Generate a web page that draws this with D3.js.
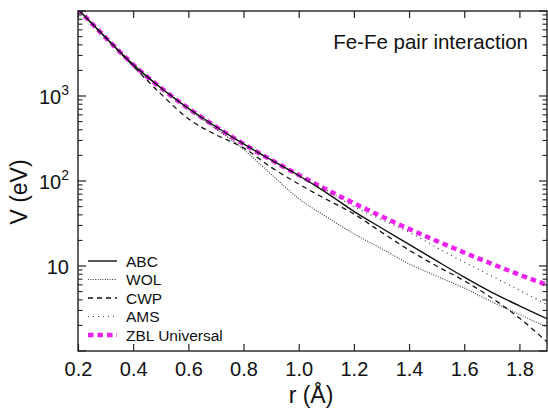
<!DOCTYPE html>
<html>
<head>
<meta charset="utf-8">
<script src="https://cdn.jsdelivr.net/npm/d3@7/dist/d3.min.js"></script>
<style>
  body { margin: 0; background: #fff; }
  svg { display: block; }
  text { font-family: "Liberation Sans", Arial, Helvetica, sans-serif; fill: #111; }
</style>
</head>
<body>
<svg id="chart" width="548" height="409"></svg>
<script>
// Pair separation r (Å)
const radii = [0.2, 0.3, 0.4, 0.5, 0.6, 0.7, 0.8, 0.9, 1.0, 1.1, 1.2, 1.3, 1.4, 1.5, 1.6, 1.7, 1.8, 1.9];

// Pair potential V(r) in eV for each parametrisation
const abcValues = [10500, 4880, 2340, 1250, 717, 435, 273, 177, 116, 73, 44, 28, 18, 11.5, 7.4, 4.9, 3.4, 2.4];
const wolValues = [10500, 4880, 2340, 1250, 700, 410, 235, 120, 62, 38, 24, 16, 10.6, 7.6, 5.5, 3.8, 2.7, 1.9];
const cwpValues = [10500, 4880, 2250, 1060, 540, 350, 245, 145, 92, 61, 41, 25, 15.4, 10, 6.7, 4.2, 2.44, 1.28];
const amsValues = [10500, 4880, 2340, 1250, 717, 435, 273, 177, 118, 78, 50, 35, 25, 16.5, 11.1, 7.6, 5.2, 3.5];
const zblValues = [10500, 4880, 2340, 1250, 717, 435, 273, 177, 118, 79.5, 54.8, 38.4, 27.3, 19.7, 14.4, 10.6, 7.9, 6.0];

const seriesNames = ["ABC", "WOL", "CWP", "AMS", "ZBL Universal"];

// Axis ticks
const xTicks = [0.2, 0.4, 0.6, 0.8, 1.0, 1.2, 1.4, 1.6, 1.8];
const yMajorTicks = [1, 10, 100, 1000, 10000];
const yLabelTicks = [10, 100, 1000];
const yLabelBase = ["10", "10", "10"];
const yLabelExp = ["", "2", "3"];

const title = "Fe-Fe pair interaction";
const xTitle = "r (Å)";
const yTitle = "V (eV)";

// ---- layout ----
const plot = { left: 78, right: 547, top: 11, bottom: 351 };

const svg = d3.select("#chart");

const x = d3.scaleLinear().domain([0.2, 1.9]).range([plot.left, plot.right]);
const y = d3.scaleLog().domain([1, 1e4]).range([plot.bottom, plot.top]);

const styles = [
  { stroke: "#111", width: 1.4, dash: null },
  { stroke: "#3a3a3a", width: 1.1, dash: "1,1.4" },
  { stroke: "#111", width: 1.3, dash: "5,4" },
  { stroke: "#3a3a3a", width: 1.2, dash: "1,4" },
  { stroke: "#ee22ee", width: 4.5, dash: "5.5,4" }
];

const seriesValues = [abcValues, wolValues, cwpValues, amsValues, zblValues];
const series = seriesNames.map((name, i) => ({
  name,
  style: styles[i],
  points: radii.map((r, j) => ({ r, v: seriesValues[i][j] }))
}));

svg.append("defs").append("clipPath").attr("id", "plot-clip")
  .append("rect")
  .attr("x", plot.left).attr("y", plot.top)
  .attr("width", plot.right - plot.left).attr("height", plot.bottom - plot.top);

const line = d3.line()
  .x(d => x(d.r))
  .y(d => y(d.v))
  .curve(d3.curveMonotoneX);

// Curves (ZBL first so the black curves sit on top)
const curves = svg.append("g").attr("clip-path", "url(#plot-clip)");
[4, 3, 1, 2, 0].forEach(i => {
  const s = series[i];
  curves.append("path")
    .datum(s.points)
    .attr("fill", "none")
    .attr("stroke", s.style.stroke)
    .attr("stroke-width", s.style.width)
    .attr("stroke-dasharray", s.style.dash)
    .attr("d", line);
});

// ---- axes ----
const axisColor = "#222";

// bottom
const gx = svg.append("g")
  .attr("transform", `translate(0,${plot.bottom})`)
  .call(d3.axisBottom(x).tickValues(xTicks).tickSize(-7).tickPadding(11)
    .tickFormat(d3.format(".1f")));
gx.select(".domain").remove();
gx.selectAll(".tick line").attr("stroke", axisColor).attr("stroke-width", 1.2);
gx.selectAll(".tick text").attr("font-size", 20).style("font-family", "'Liberation Sans', Arial, sans-serif").attr("fill", "#111");

// top
const gxt = svg.append("g")
  .attr("transform", `translate(0,${plot.top})`)
  .call(d3.axisTop(x).tickValues(xTicks).tickSize(-7).tickFormat(""));
gxt.select(".domain").remove();
gxt.selectAll(".tick line").attr("stroke", axisColor).attr("stroke-width", 1.2);

// minor log ticks
const yMinorTicks = [];
[1, 10, 100, 1000].forEach(d => { for (let k = 2; k <= 9; k++) yMinorTicks.push(k * d); });

function yAxisTicks(g, side) {
  const dir = side === "left" ? 1 : -1;
  const x0 = side === "left" ? plot.left : plot.right;
  g.selectAll("line.major").data(yMajorTicks).join("line")
    .attr("class", "major")
    .attr("x1", x0).attr("x2", x0 + dir * 8)
    .attr("y1", d => y(d)).attr("y2", d => y(d))
    .attr("stroke", axisColor).attr("stroke-width", 1.2);
  g.selectAll("line.minor").data(yMinorTicks).join("line")
    .attr("class", "minor")
    .attr("x1", x0).attr("x2", x0 + dir * 4.5)
    .attr("y1", d => y(d)).attr("y2", d => y(d))
    .attr("stroke", axisColor).attr("stroke-width", 1.1);
}
svg.append("g").call(yAxisTicks, "left");
svg.append("g").call(yAxisTicks, "right");

// y labels with superscripts
const ylab = svg.append("g");
yLabelTicks.forEach((v, i) => {
  const t = ylab.append("text")
    .attr("x", plot.left - 9)
    .attr("y", y(v) + 7.5)
    .attr("text-anchor", "end")
    .attr("font-size", 20);
  t.append("tspan").text(yLabelBase[i]);
  if (yLabelExp[i]) {
    t.append("tspan").attr("font-size", 14).attr("dy", -8.5).text(yLabelExp[i]);
  }
});

// frame
svg.append("rect")
  .attr("x", plot.left).attr("y", plot.top)
  .attr("width", plot.right - plot.left).attr("height", plot.bottom - plot.top)
  .attr("fill", "none").attr("stroke", axisColor).attr("stroke-width", 1.4);

// titles
svg.append("text")
  .attr("x", 528).attr("y", 49)
  .attr("text-anchor", "end").attr("font-size", 20.5)
  .text(title);

svg.append("text")
  .attr("x", 311).attr("y", 403)
  .attr("text-anchor", "middle").attr("font-size", 23)
  .text(xTitle);

svg.append("text")
  .attr("transform", "translate(27,192) rotate(-90)")
  .attr("text-anchor", "middle").attr("font-size", 23)
  .text(yTitle);

// ---- legend ----
const legend = svg.append("g");
const legendTop = 261, legendStep = 18.5;
series.forEach((s, i) => {
  const ly = legendTop + i * legendStep;
  legend.append("line")
    .attr("x1", 88).attr("x2", 117)
    .attr("y1", ly).attr("y2", ly)
    .attr("stroke", s.style.stroke)
    .attr("stroke-width", s.style.width)
    .attr("stroke-dasharray", s.style.dash);
  legend.append("text")
    .attr("x", 126).attr("y", ly + 5.5)
    .attr("font-size", 15.5)
    .text(s.name);
});
</script>
</body>
</html>
